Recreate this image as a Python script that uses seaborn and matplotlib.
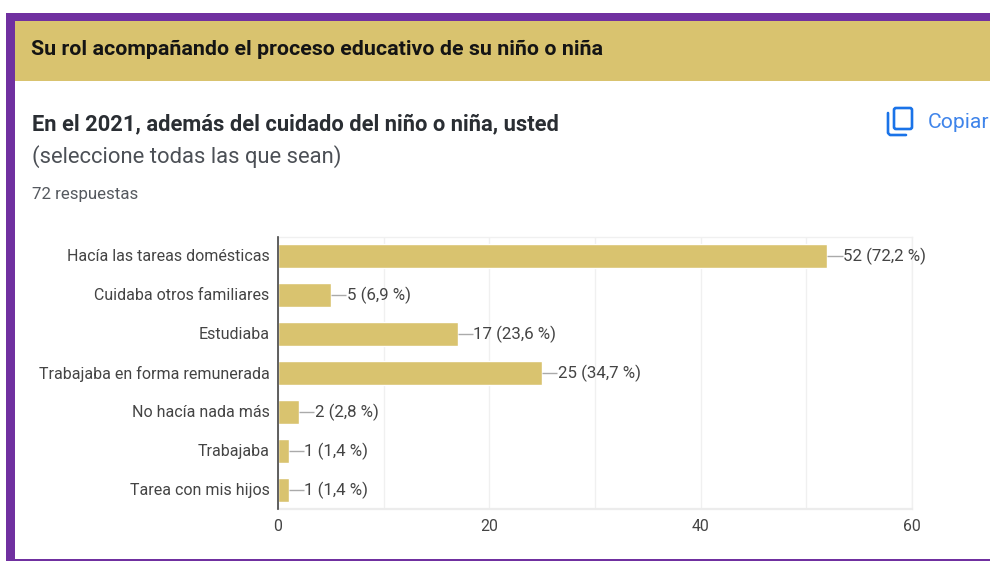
import matplotlib
matplotlib.use("Agg")
import matplotlib.pyplot as plt
from matplotlib.patches import Rectangle, FancyBboxPatch
from matplotlib.transforms import ScaledTranslation
import pandas as pd
import seaborn as sns

sns.set_style("white")
plt.rcParams['font.family'] = ['Roboto', 'DejaVu Sans']

categories = ["Hacía las tareas domésticas", "Cuidaba otros familiares", "Estudiaba",
              "Trabajaba en forma remunerada", "No hacía nada más", "Trabajaba", "Tarea con mis hijos"]
counts = [52, 5, 17, 25, 2, 1, 1]
labels = ["52 (72,2 %)", "5 (6,9 %)", "17 (23,6 %)", "25 (34,7 %)", "2 (2,8 %)", "1 (1,4 %)", "1 (1,4 %)"]
x_ticks = [0, 20, 40, 60]
minor_grid = [10, 30, 50]
PURPLE = "#7030A0"
GOLD = "#D9C36F"
W, H = 990, 561

fig = plt.figure(figsize=(W/100, H/100), dpi=100, facecolor="white")
bg = fig.add_axes([0, 0, 1, 1])
bg.set_xlim(0, W); bg.set_ylim(H, 0); bg.axis("off")

bg.add_patch(Rectangle((6, 13), W, 8, color=PURPLE, lw=0))
bg.add_patch(Rectangle((6, 13), 9, 548, color=PURPLE, lw=0))
bg.add_patch(Rectangle((6, 559), W, 2, color=PURPLE, lw=0))
bg.add_patch(Rectangle((15, 21), W, 60, color=GOLD, lw=0))

bg.text(31, 49.5, "Su rol acompañando el proceso educativo de su niño o niña", fontsize=15.43,
        fontweight="bold", color="#141414", va="center")
bg.text(32, 124.5, "En el 2021, además del cuidado del niño o niña, usted", fontsize=15.75,
        fontweight="bold", color="#2a2e33", va="center")
bg.text(32, 156.5, "(seleccione todas las que sean)", fontsize=15.85, color="#4c5056", va="center")
bg.text(32, 194, "72 respuestas", fontsize=12.2, color="#55595f", va="center")

# copy icon and button text
bl = "#1a73e8"
bg.add_patch(FancyBboxPatch((894, 108), 18, 21, boxstyle="round,pad=0,rounding_size=2",
                            fill=False, ec=bl, lw=1.9))
bg.plot([888, 888, 890, 906], [113, 133, 135, 135], color=bl, lw=1.9, solid_capstyle="round")
bg.text(928, 122.5, "Copiar", fontsize=15.2, color="#3f84ea", va="center")

# chart: x 0->278 px, 60->912 px; y 237->509 px
ax = fig.add_axes([278/W, 1-509/H, (912-278)/W, (509-237)/H])
ax.patch.set_alpha(0)
df = pd.DataFrame({"cat": categories, "n": counts})
sns.barplot(data=df, x="n", y="cat", color=GOLD, saturation=1, width=0.62, ax=ax, zorder=3)
ax.set_xlim(0, 60)
ax.set_ylim(6.5, -0.5)
ax.set_xlabel(""); ax.set_ylabel("")
ax.set_xticks(x_ticks)
ax.set_xticks(minor_grid, minor=True)
ax.grid(True, axis="x", which="both", color="#f0f0f0", lw=1, zorder=0)
ax.grid(False, axis="y")
ax.tick_params(axis="x", which="both", length=0, pad=7, labelsize=11.4, labelcolor="#444444")
ax.tick_params(axis="y", length=0, pad=6, labelsize=11.5, labelcolor="#444444")
lift = ScaledTranslation(0, 1/100, fig.dpi_scale_trans)
for lab in ax.get_yticklabels():
    lab.set_transform(lab.get_transform() + lift)
for s in ["top", "right"]:
    ax.spines[s].set_color("#f0f0f0"); ax.spines[s].set_linewidth(1)
ax.spines["bottom"].set_color("#ececec"); ax.spines["bottom"].set_linewidth(1.6)
ax.spines["left"].set_color("#444444"); ax.spines["left"].set_linewidth(1.2)
ax.spines["left"].set_zorder(5)

for i, (v, t) in enumerate(zip(counts, labels)):
    ax.plot([v, v + 1.45], [i, i], color="#aaaaaa", lw=1, zorder=4, solid_capstyle="butt", clip_on=False)
    ax.text(v + 1.5, i + 0.01, t, fontsize=12.2, color="#444444", va="center", ha="left", zorder=4)

fig.savefig("out.png", dpi=100)
